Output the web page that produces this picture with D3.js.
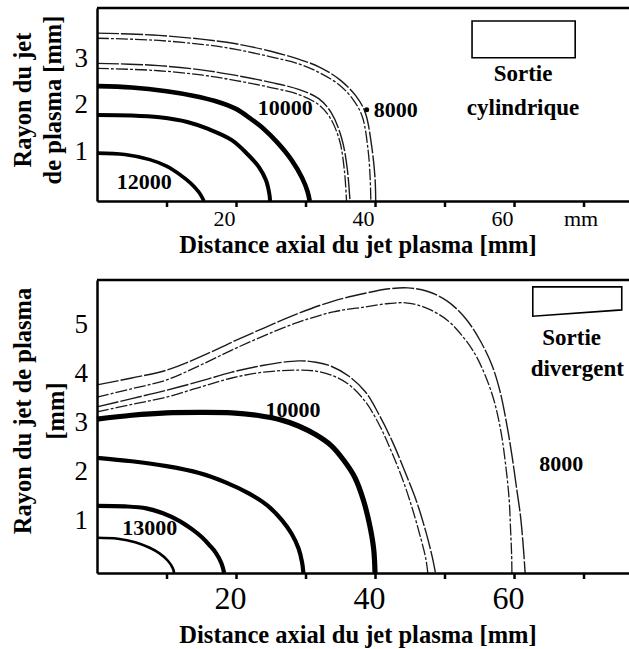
<!DOCTYPE html>
<html>
<head>
<meta charset="utf-8">
<script src="https://cdn.jsdelivr.net/npm/d3@7"></script>
<style>
  body { margin: 0; background: #fff; }
  svg { display: block; }
  text { font-family: "Liberation Serif", "Times New Roman", serif; fill: #000; }
</style>
</head>
<body>
<div id="chart"></div>
<script>
// axis ticks (mm)
var xTicks = [10, 20, 30, 40, 50, 60, 70];
var xLabelsTop = ["", "20", "", "40", "", "60", "mm"];
var xLabelsBottom = ["", "20", "", "40", "", "60", ""];
var yTicksTop = [1, 2, 3];
var yTicksBottom = [1, 2, 3, 4, 5];

// isotherms, sortie cylindrique : [distance axiale mm, rayon mm]
var cyl12000 = [[0,1.03],[4,1.0],[7.6,0.89],[10,0.75],[12,0.56],[13.5,0.38],[14.6,0.2],[15.4,0]];
var cyl11000 = [[0,1.85],[5,1.84],[9,1.8],[13,1.7],[16,1.55],[19.4,1.31],[21.7,1.0],[23.3,0.73],[24.3,0.45],[24.8,0.15],[24.9,0]];
var cyl10000 = [[0,2.47],[5,2.44],[10,2.36],[14,2.26],[17,2.15],[20,1.98],[22,1.78],[24,1.55],[26,1.25],[28,0.88],[29.5,0.5],[30.3,0.2],[30.6,0]];
var cyl9000a = [[0,2.96],[8,2.92],[15,2.82],[20,2.7],[25,2.55],[29,2.4],[31.9,2.2],[33.7,1.9],[35.2,1.35],[36,0.7],[36.4,0]];
var cyl9000b = [[0,2.85],[8,2.81],[15,2.71],[20,2.59],[25,2.44],[29,2.29],[31.9,2.07],[33.5,1.8],[34.9,1.3],[35.6,0.65],[35.9,0]];
var cyl8000a = [[0,3.61],[8,3.57],[15,3.48],[20,3.38],[25,3.22],[29,3.05],[32,2.88],[35,2.6],[37.3,2.25],[38.6,1.9],[39.5,1.2],[40,0.5],[40.1,0]];
var cyl8000b = [[0,3.5],[8,3.46],[15,3.37],[20,3.26],[25,3.1],[29,2.95],[32,2.76],[35,2.48],[37,2.15],[38.2,1.8],[39,1.1],[39.3,0.5],[39.4,0]];

// isotherms, sortie divergente
var div13000 = [[0,0.72],[3,0.7],[5.5,0.63],[7.5,0.52],[9,0.4],[10.2,0.25],[10.9,0.1],[11.1,0]];
var div12000 = [[0,1.37],[4,1.36],[7.1,1.32],[9.5,1.22],[11.9,1.06],[13.8,0.88],[15.1,0.73],[16.3,0.55],[17.1,0.41],[17.9,0.2],[18.3,0]];
var div11000 = [[0,2.35],[5,2.28],[10,2.18],[14.7,2.04],[18.5,1.85],[21.9,1.62],[24.5,1.38],[26.6,1.08],[28,0.8],[29,0.5],[29.5,0.22],[29.7,0]];
var div10000 = [[0,3.14],[5,3.22],[10,3.27],[15,3.28],[19.4,3.27],[23,3.22],[26.6,3.12],[29,3.0],[31.5,2.82],[33.7,2.6],[35.5,2.3],[37.1,1.95],[38.3,1.5],[39.2,1.0],[39.8,0.5],[40,0]];
var div9000a = [[0,3.39],[5,3.56],[10,3.73],[15,3.92],[19.4,4.1],[24,4.24],[29,4.33],[31.5,4.3],[33.7,4.22],[36.2,4.02],[38.6,3.7],[40.7,3.2],[42.6,2.65],[44.5,2.0],[46,1.45],[47.3,0.85],[48.2,0.35],[48.7,0]];
var div9000b = [[0,3.29],[5,3.44],[10,3.59],[15,3.8],[19.4,3.98],[24,4.1],[29,4.14],[31.5,4.12],[33.7,4.04],[36.2,3.85],[38.6,3.5],[40.7,3.0],[42.3,2.5],[44,1.9],[45.4,1.3],[46.6,0.7],[47.3,0.3],[47.6,0]];
var div8000a = [[0,3.84],[5,3.98],[10,4.14],[15,4.42],[19.4,4.71],[24,5.0],[29,5.3],[34,5.55],[38.6,5.71],[42,5.8],[44.7,5.82],[47.5,5.75],[50.4,5.55],[53,5.2],[55.1,4.75],[56.8,4.25],[58,3.7],[59,3.0],[59.7,2.4],[60.4,1.7],[60.9,1.2],[61.3,0.6],[61.6,0]];
var div8000b = [[0,3.59],[5,3.76],[10,3.94],[15,4.25],[19.4,4.55],[24,4.84],[29,5.12],[34,5.33],[38.6,5.43],[42,5.5],[44.7,5.51],[47.5,5.4],[50.4,5.16],[52.5,4.85],[54.3,4.49],[55.8,4.05],[57.1,3.53],[58.1,2.9],[58.8,2.2],[59.3,1.5],[59.5,0.9],[59.65,0.4],[59.7,0]];

// contour labels [text, x mm, r mm]
var labelsTop = [["12000", 6.8, 0.41], ["10000", 27.1, 2.0], ["8000", 43.0, 1.96]];
var labelsBottom = [["13000", 7.6, 0.92], ["10000", 28.2, 3.33], ["8000", 66.8, 2.24]];
var markTop = [[38.8, 1.96]];

// nozzle sketches (mm coordinates of the inset)
var nozzleCyl = [[53.96,3.87],[68.8,3.87],[68.8,3.08],[53.96,3.08]];
var nozzleDiv = [[62.7,5.84],[75.5,5.84],[75.5,5.37],[62.7,5.24]];
var legendTop = [["Sortie", 61.3, 2.75], ["cylindrique", 61.3, 2.02]];
var legendBottom = [["Sortie", 68.3, 4.8], ["divergent", 69.1, 4.18]];

var svg = d3.select("#chart")
  .append("svg")
  .attr("width", 629)
  .attr("height", 649);

svg.append("rect").attr("width", 629).attr("height", 649).attr("fill", "#fff");

function panel(o) {
  var x = d3.scaleLinear().domain([0, 76.5]).range([97, 628.7]);
  var y = d3.scaleLinear().domain([0, o.rMax]).range([o.base, o.top]);
  var g = svg.append("g");

  var line = d3.line()
    .x(d => x(d[0]))
    .y(d => y(d[1]))
    .curve(d3.curveCatmullRom.alpha(0.5));

  // contours
  o.curves.forEach(function(c) {
    g.append("path")
      .attr("d", line(c[0]))
      .attr("fill", "none")
      .attr("stroke", c[1] < 2 ? "#1a1a1a" : "#000")
      .attr("stroke-width", c[1])
      .attr("stroke-dasharray", c[2] || null);
  });

  // top border
  g.append("line")
    .attr("x1", x(0)).attr("x2", 629)
    .attr("y1", y(o.rMax)).attr("y2", y(o.rMax))
    .attr("stroke", "#000").attr("stroke-width", 2.5);

  // x axis
  var xa = g.append("g")
    .attr("transform", "translate(0," + o.base + ")")
    .call(d3.axisBottom(x).tickValues(xTicks).tickSize(6).tickSizeOuter(0)
      .tickPadding(o.xPad).tickFormat((d, i) => o.xLabels[i]));
  xa.select(".domain").attr("stroke-width", 2.5);
  xa.selectAll(".tick line").attr("stroke-width", 2.5);
  xa.selectAll("text")
    .attr("font-family", "Liberation Serif, serif")
    .attr("font-size", o.xFont)
    .attr("dx", d => d === 70 ? -3 : o.xShift);

  // y axis
  var ya = g.append("g")
    .attr("transform", "translate(" + x(0) + ",0)")
    .call(d3.axisLeft(y).tickValues(o.yTicks).tickSize(0).tickSizeOuter(0)
      .tickPadding(9).tickFormat(d3.format("d")));
  ya.select(".domain").attr("stroke-width", 2.5);
  ya.selectAll("text")
    .attr("font-family", "Liberation Serif, serif")
    .attr("font-size", 27)
    .attr("y", -4);

  // contour labels
  g.selectAll(".clab").data(o.labels).enter().append("text")
    .attr("x", d => x(d[1])).attr("y", d => y(d[2]))
    .attr("text-anchor", "middle").attr("dominant-baseline", "central")
    .attr("font-size", 22).attr("font-weight", "bold")
    .text(d => d[0]);

  g.selectAll(".mark").data(o.marks).enter().append("circle")
    .attr("cx", d => x(d[0])).attr("cy", d => y(d[1])).attr("r", 2.5);

  // nozzle inset
  g.append("path")
    .attr("d", d3.line().x(d => x(d[0])).y(d => y(d[1]))(o.nozzle) + "Z")
    .attr("fill", "#fff").attr("stroke", "#000").attr("stroke-width", 1.6);
  g.selectAll(".leg").data(o.legend).enter().append("text")
    .attr("x", d => x(d[1])).attr("y", d => y(d[2]))
    .attr("text-anchor", "middle").attr("dominant-baseline", "central")
    .attr("font-size", 23).attr("font-weight", "bold")
    .text(d => d[0]);

  // axis titles
  g.append("text")
    .attr("x", 358).attr("y", o.xTitleY)
    .attr("text-anchor", "middle").attr("dominant-baseline", "central")
    .attr("font-size", 24.5).attr("font-weight", "bold")
    .text("Distance axial du jet plasma [mm]");
  o.yTitle.forEach(function(t) {
    g.append("text")
      .attr("transform", "translate(" + t[1] + "," + t[2] + ") rotate(-90)")
      .attr("text-anchor", "middle").attr("dominant-baseline", "central")
      .attr("font-size", 24.5).attr("font-weight", "bold")
      .text(t[0]);
  });
}

var thin1 = "22,2", thin2 = "12,2,3,2";

panel({
  rMax: 4.15, base: 201, top: 8,
  xLabels: xLabelsTop, xPad: 3, xFont: 22, xShift: -12,
  yTicks: yTicksTop,
  curves: [[cyl12000, 3.6], [cyl11000, 4], [cyl10000, 4.6],
           [cyl9000a, 1.4, thin1], [cyl9000b, 1.3, thin2],
           [cyl8000a, 1.4, thin1], [cyl8000b, 1.3, thin2]],
  labels: labelsTop, marks: markTop,
  nozzle: nozzleCyl, legend: legendTop,
  xTitleY: 244,
  yTitle: [["Rayon du jet", 22, 100], ["de plasma [mm]", 52, 100]]
});

panel({
  rMax: 5.98, base: 573, top: 280,
  xLabels: xLabelsBottom, xPad: 7, xFont: 32, xShift: -6,
  yTicks: yTicksBottom,
  curves: [[div13000, 2.6], [div12000, 4.2], [div11000, 4.2], [div10000, 5.2],
           [div9000a, 1.4, thin1], [div9000b, 1.3, thin2],
           [div8000a, 1.4, thin1], [div8000b, 1.3, thin2]],
  labels: labelsBottom, marks: [],
  nozzle: nozzleDiv, legend: legendBottom,
  xTitleY: 634,
  yTitle: [["Rayon du jet de plasma", 22, 411], ["[mm]", 55, 411]]
});
</script>
</body>
</html>
